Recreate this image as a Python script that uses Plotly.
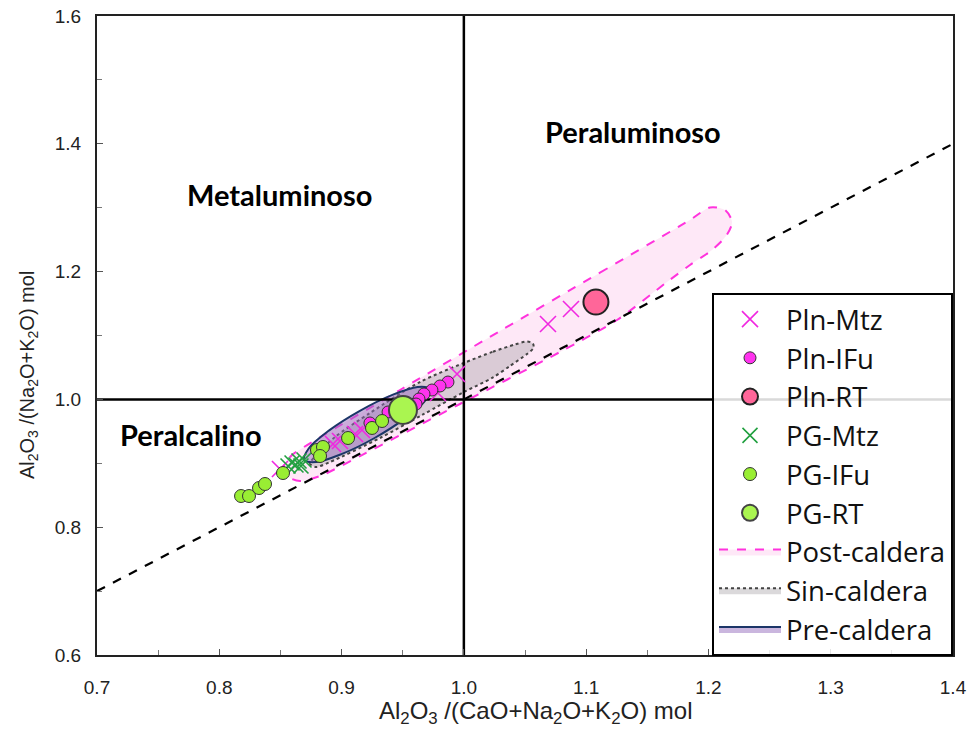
import plotly.graph_objects as go

# ---------------- data ----------------
pln_mtz_x = [1.0688, 1.0876, 0.9944, 0.9788, 0.9167, 0.9110, 0.8987, 0.8930, 0.8496]
pln_mtz_y = [1.1180, 1.1415, 1.0398, 1.0100, 0.9521, 0.9459, 0.9349, 0.9302, 0.8911]

pln_ifu_x = [0.9870, 0.9805, 0.9739, 0.9674, 0.9633, 0.9609, 0.9380, 0.9232]
pln_ifu_y = [1.0272, 1.0210, 1.0147, 1.0085, 1.0006, 0.9928, 0.9803, 0.9631]

pln_rt_x = [1.1080]
pln_rt_y = [1.1524]

pg_mtz_x = [0.8562, 0.8595, 0.8627, 0.8652, 0.8693, 0.8668]
pg_mtz_y = [0.8958, 0.9005, 0.8974, 0.9036, 0.9052, 0.8958]

pg_ifu_x = [0.8178, 0.8243, 0.8325, 0.8374, 0.8521, 0.8799, 0.8848, 0.8824, 0.9053, 0.9249, 0.9331]
pg_ifu_y = [0.8488, 0.8488, 0.8613, 0.8676, 0.8848, 0.9208, 0.9255, 0.9114, 0.9396, 0.9553, 0.9662]

pg_rt_x = [0.9502]
pg_rt_y = [0.9834]

# outlines of the caldera fields
post_x = [1.0295, 1.1113, 1.1849, 1.2013, 1.2135, 1.2193, 1.2144, 1.2029, 1.1849, 1.1661,
          1.1252, 1.0786, 0.9968, 0.9151, 0.8824, 0.8660, 0.8554, 0.8529, 0.8595, 0.8693,
          0.9478, 1.0295]
post_y = [1.1070, 1.1983, 1.2808, 1.3003, 1.2964, 1.2776, 1.2557, 1.2338, 1.2103, 1.1837,
          1.1243, 1.0742, 0.9928, 0.9114, 0.8801, 0.8723, 0.8801, 0.8958, 0.9130, 0.9255,
          1.0147, 1.1070]

sin_x = [0.9993, 1.0238, 1.0418, 1.0516, 1.0565, 1.0569, 1.0516, 1.0377, 1.0238, 0.9993,
         0.9666, 0.9314, 0.8905, 0.8791, 0.8742, 0.8783, 0.8946, 0.9232, 0.9641, 0.9993]
sin_y = [1.0565, 1.0746, 1.0859, 1.0906, 1.0875, 1.0804, 1.0710, 1.0523, 1.0343, 1.0108,
         0.9764, 0.9396, 0.9020, 0.8942, 0.8989, 0.9114, 0.9412, 0.9787, 1.0272, 1.0565]

pre_x = [0.9270, 0.9004, 0.8793, 0.8693, 0.8731, 0.8896, 0.9146, 0.9411, 0.9622, 0.9723,
         0.9685, 0.9519, 0.9270]
pre_y = [0.9396, 0.9147, 0.9020, 0.9052, 0.9232, 0.9512, 0.9818, 1.0067, 1.0194, 1.0163,
         0.9983, 0.9703, 0.9396]

x_range = [0.7, 1.4]
y_range = [0.6, 1.6]
x_ticks = [0.7, 0.8, 0.9, 1.0, 1.1, 1.2, 1.3, 1.4]
y_ticks = [0.6, 0.8, 1.0, 1.2, 1.4, 1.6]

field_labels = ["Peraluminoso", "Metaluminoso", "Peralcalino"]
field_x = [1.1383, 0.8496, 0.7769]
field_y = [1.4200, 1.3199, 0.9450]

x_title = "Al<sub>2</sub>O<sub>3</sub> /(CaO+Na<sub>2</sub>O+K<sub>2</sub>O) mol"
y_title = "Al<sub>2</sub>O<sub>3</sub> /(Na<sub>2</sub>O+K<sub>2</sub>O) mol"

# ---------------- figure ----------------
fig = go.Figure()

LEG_FONT = dict(family="Open Sans", size=27.5, color="#111")

# caldera fields
fig.add_trace(go.Scatter(
    x=post_x, y=post_y, mode="lines", fill="toself", name="Post-caldera",
    line=dict(color="#ff33dd", width=2, dash="dash", shape="spline", smoothing=0.8),
    fillcolor="rgba(252,205,238,0.45)", legendrank=7, hoverinfo="skip"))
fig.add_trace(go.Scatter(
    x=sin_x, y=sin_y, mode="lines", fill="toself", name="Sin-caldera",
    line=dict(color="#444444", width=2, dash="dot", shape="spline", smoothing=0.8),
    fillcolor="rgba(165,160,165,0.40)", legendrank=8, hoverinfo="skip"))
fig.add_trace(go.Scatter(
    x=pre_x, y=pre_y, mode="lines", fill="toself", name="Pre-caldera",
    line=dict(color="#1c3668", width=2, shape="spline", smoothing=1.0),
    fillcolor="rgba(150,110,190,0.50)", legendrank=9, hoverinfo="skip"))

# reference lines
fig.add_trace(go.Scatter(x=x_range, y=x_range, mode="lines", showlegend=False,
                         line=dict(color="black", width=2.2, dash="dash"), hoverinfo="skip"))
fig.add_trace(go.Scatter(x=[1.0, 1.0], y=y_range, mode="lines", showlegend=False,
                         line=dict(color="black", width=2.5), hoverinfo="skip"))
fig.add_trace(go.Scatter(x=x_range, y=[1.0, 1.0], mode="lines", showlegend=False,
                         line=dict(color="black", width=2.5), hoverinfo="skip"))

# samples
fig.add_trace(go.Scatter(
    x=pln_mtz_x, y=pln_mtz_y, mode="markers", name="Pln-Mtz", legendrank=1,
    marker=dict(symbol="x-thin", size=16, line=dict(color="#f028e0", width=1.6))))
fig.add_trace(go.Scatter(
    x=pln_ifu_x, y=pln_ifu_y, mode="markers", name="Pln-IFu", legendrank=2,
    marker=dict(symbol="circle", size=12, color="#ff33ee",
                line=dict(color="#333333", width=1))))
fig.add_trace(go.Scatter(
    x=pln_rt_x, y=pln_rt_y, mode="markers", name="Pln-RT", legendrank=3,
    marker=dict(symbol="circle", size=25, color="#ff6699",
                line=dict(color="#222222", width=2))))
fig.add_trace(go.Scatter(
    x=pg_mtz_x, y=pg_mtz_y, mode="markers", name="PG-Mtz", legendrank=4,
    marker=dict(symbol="x-thin", size=15, line=dict(color="#22a040", width=1.6))))
fig.add_trace(go.Scatter(
    x=pg_ifu_x, y=pg_ifu_y, mode="markers", name="PG-IFu", legendrank=5,
    marker=dict(symbol="circle", size=13, color="#99ee33",
                line=dict(color="#333333", width=1))))
fig.add_trace(go.Scatter(
    x=pg_rt_x, y=pg_rt_y, mode="markers", name="PG-RT", legendrank=6,
    marker=dict(symbol="circle", size=28, color="#aaf550",
                line=dict(color="#444444", width=2))))

for t, xx, yy in zip(field_labels, field_x, field_y):
    fig.add_annotation(x=xx, y=yy, text="<b>" + t + "</b>", showarrow=False,
                       font=dict(family="Lato", size=29, color="black"))

# axis titles (placed where the reference has them)
fig.add_annotation(x=0.5117, y=-0.09, xref="paper", yref="paper", text=x_title,
                   showarrow=False, xanchor="center", yanchor="middle",
                   font=dict(family="Liberation Sans", size=24, color="#222"))
fig.add_annotation(x=-0.0806, y=0.438, xref="paper", yref="paper", text=y_title,
                   showarrow=False, textangle=-90, xanchor="center", yanchor="middle",
                   font=dict(family="Liberation Sans", size=20, color="#222"))

axis_common = dict(
    showgrid=False, zeroline=False, showline=True, linecolor="#222", linewidth=2,
    mirror=True, ticks="inside", ticklen=6, tickcolor="#555", tickwidth=1,
    automargin=False, ticklabeloverflow="allow",
    tickfont=dict(family="Liberation Sans", size=19, color="#222"),
)

fig.update_layout(
    width=968, height=737,
    margin=dict(l=97, r=15, t=16, b=82, autoexpand=False),
    paper_bgcolor="white", plot_bgcolor="white",
    xaxis=dict(range=x_range, tickvals=x_ticks, tickformat=".1f",
               minor=dict(dtick=0.05, ticks="inside", ticklen=5, tickcolor="#777", tick0=0.7),
               ticklabelstandoff=14, **axis_common),
    yaxis=dict(range=y_range, tickvals=y_ticks, tickformat=".1f",
               minor=dict(dtick=0.1, ticks="inside", ticklen=5, tickcolor="#777", tick0=0.6),
               ticklabelstandoff=10, **axis_common),
    legend=dict(x=1.0, y=0.567, xanchor="right", yanchor="top",
                bgcolor="rgba(255,255,255,0.85)", bordercolor="black", borderwidth=2,
                font=LEG_FONT, itemwidth=62, tracegroupgap=0),
    showlegend=True,
)

# remove the default 8px page margin so the 968x737 figure fills the window exactly
fig.write_html("out.html", config={"displayModeBar": False},
               post_script="document.body.style.margin='0px';document.body.style.overflow='hidden';")
